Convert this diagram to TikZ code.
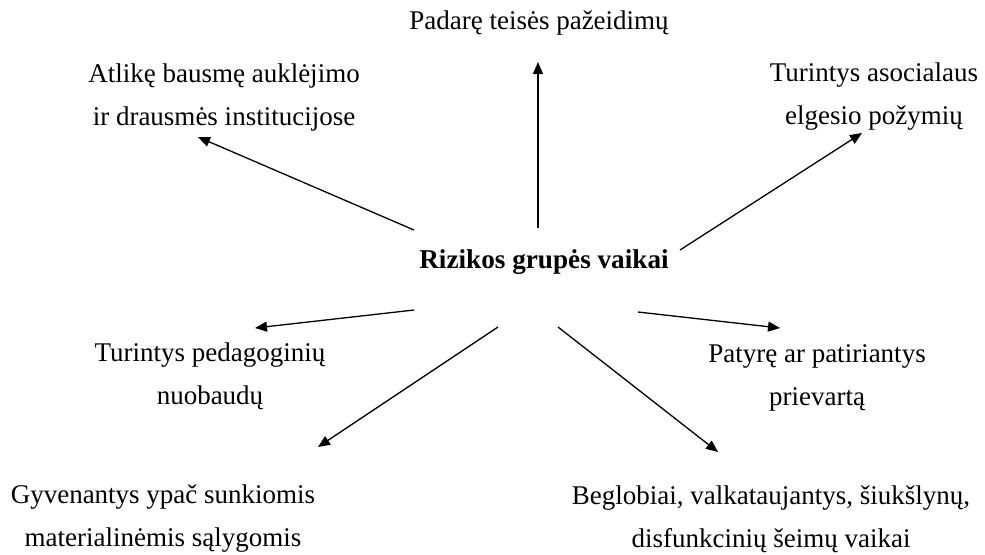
\documentclass[tikz,border=0pt]{standalone}
\usepackage{fontspec}
\setmainfont{Liberation Serif}
\usetikzlibrary{arrows.meta}

\begin{document}
\begin{tikzpicture}
        [x=0.5pt, y=-0.5pt,
        lbl/.style={align=center, font=\fontsize{13.5}{21.5}\selectfont, inner sep=0pt},
        arr/.style={-{Triangle[length=6pt, width=5pt]}, line width=0.65pt}]

        \useasboundingbox (0,0) rectangle (985,554);

        % centre
        \node[lbl, font=\fontsize{13.6}{21.5}\selectfont\bfseries] (vaikai) at (544,262) {Rizikos grupės vaikai};

        % outer labels
        \node[lbl] (padare) at (539,23) {Padarę teisės pažeidimų};
        \node[lbl] (atlike) at (224,97) {Atlikę bausmę auklėjimo\\ir drausmės institucijose};
        \node[lbl] (asoc) at (874,97) {Turintys asocialaus\\elgesio požymių};
        \node[lbl] (pedag) at (210,376) {Turintys pedagoginių\\nuobaudų};
        \node[lbl] (prievarta) at (817,378) {Patyrę ar patiriantys\\prievartą};
        \node[lbl] (salygos) at (163,519) {Gyvenantys ypač sunkiomis\\materialinėmis sąlygomis};
        \node[lbl] (beglobiai) at (771,519) {Beglobiai, valkataujantys, šiukšlynų,\\disfunkcinių šeimų vaikai};

        % arrow ends
        \coordinate (s1) at (538,228); \coordinate (e1) at (538,62);
        \coordinate (s2) at (414,230); \coordinate (e2) at (198,137);
        \coordinate (s3) at (680,250); \coordinate (e3) at (862,133);
        \coordinate (s4) at (414,310); \coordinate (e4) at (255,328);
        \coordinate (s5) at (638,312); \coordinate (e5) at (780,328);
        \coordinate (s6) at (498,327); \coordinate (e6) at (318,447);
        \coordinate (s7) at (558,327); \coordinate (e7) at (718,452);

        \foreach \i in {1,...,7}
            \draw[arr] (s\i) -- (e\i);

    \end{tikzpicture}
\end{document}
